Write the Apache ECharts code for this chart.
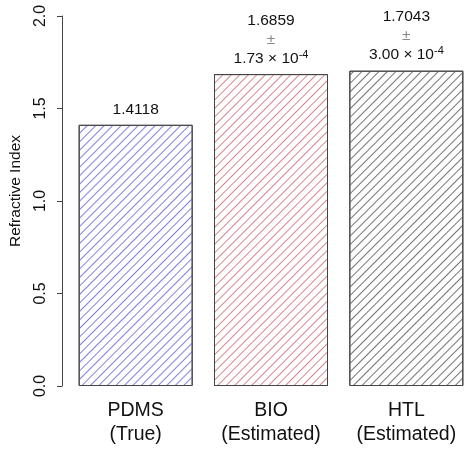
<!DOCTYPE html>
<html lang="en">
<head>
    <meta charset="UTF-8">
    <title>Refractive Index</title>
    <script src="https://cdn.jsdelivr.net/npm/echarts@6/dist/echarts.min.js"></script>
    <style>
      html, body { margin: 0; padding: 0; background: #fff; }
      #chart { width: 474px; height: 450px; }
    </style>
</head>
<body>
  <div id="chart"></div>
  <script type="text/javascript">
    // data
    var categories = ['PDMS\n(True)', 'BIO\n(Estimated)', 'HTL\n(Estimated)'];
    var values = [1.4118, 1.6859, 1.7043];
    var errMantissa = [null, '1.73', '3.00'];
    var errExponent = [null, '-4', '-4'];
    var hatchColors = ['#8080dc', '#d68892', '#747474'];
    var yTicks = [0, 0.5, 1.0, 1.5, 2.0];

    var dom = document.getElementById('chart');
    var myChart = echarts.init(dom, null, { renderer: 'canvas' });

    var barData = values.map(function (v, i) {
      var fmt;
      if (errMantissa[i]) {
        fmt = '{v|' + v.toFixed(4) + '}\n{pm|±}\n{v|' + errMantissa[i] + ' × 10}{sup|' + errExponent[i] + '}';
      } else {
        fmt = '{v|' + v.toFixed(4) + '}';
      }
      return {
        value: v,
        itemStyle: {
          color: '#fff',
          // diagonal hatching like R's density/angle fill
          decal: {
            symbol: 'rect',
            color: hatchColors[i],
            dashArrayX: [1, 0],
            dashArrayY: [1, 5],
            rotation: -Math.PI / 4
          }
        },
        label: { formatter: fmt }
      };
    });

    var option = {
      animation: false,
      textStyle: { fontFamily: 'Liberation Sans, Arial, sans-serif' },
      grid: { left: 68, right: 0, top: 16, bottom: 64, outerBoundsMode: 'none', containLabel: false },
      xAxis: {
        type: 'category',
        data: categories,
        axisLine: { show: false },
        axisTick: { show: false },
        axisLabel: {
          interval: 0,
          hideOverlap: false,
          fontSize: 19.5,
          lineHeight: 24,
          color: '#111',
          margin: 13
        }
      },
      yAxis: {
        type: 'value',
        min: yTicks[0],
        max: yTicks[yTicks.length - 1],
        interval: 0.5,
        offset: 6,
        name: 'Refractive Index',
        nameLocation: 'middle',
        nameRotate: 90,
        nameGap: 38,
        nameTextStyle: { fontSize: 15.5, color: '#111', padding: [0, 0, 0, 20] },
        splitLine: { show: false },
        axisLine: { show: true, lineStyle: { color: '#444', width: 1 } },
        axisTick: { show: true, length: 5, lineStyle: { color: '#444' } },
        axisLabel: {
          rotate: 90,
          fontSize: 16,
          color: '#111',
          margin: 13,
          formatter: function (v) { return v.toFixed(1); }
        }
      },
      series: [
        {
          type: 'bar',
          data: barData,
          barWidth: 114,
          itemStyle: { borderColor: '#444', borderWidth: 1 },
          label: {
            show: true,
            position: 'top',
            distance: 6,
            align: 'center',
            rich: {
              v: { fontSize: 15.5, color: '#111', lineHeight: 19 },
              pm: { fontSize: 15.5, color: '#888', lineHeight: 19 },
              sup: { fontSize: 11, color: '#111', verticalAlign: 'top', padding: [0, 0, 7, 0] }
            }
          }
        }
      ]
    };

    myChart.setOption(option);
    window.addEventListener('resize', myChart.resize);
  </script>
</body>
</html>
